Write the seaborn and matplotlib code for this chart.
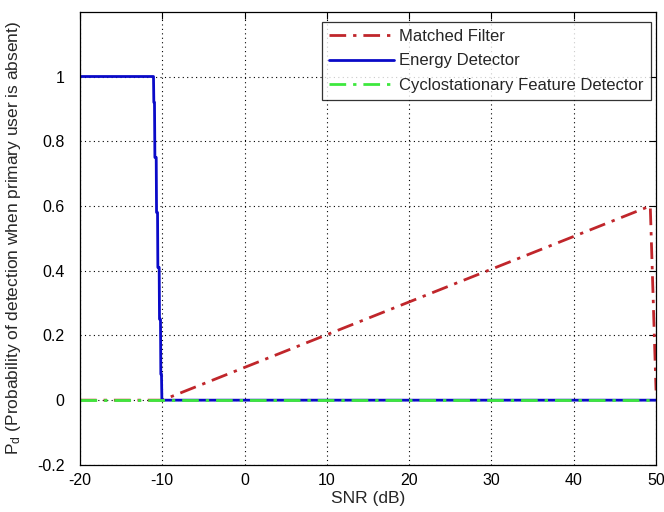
import numpy as np
import pandas as pd
import matplotlib
matplotlib.use("Agg")
import matplotlib.pyplot as plt
import seaborn as sns

# SNR (dB) / Pd corner points
snr_mf = [-20, -10, 49.3, 50]
pd_mf = [0.0, 0.0, 0.60, 0.03]

snr_ed = [-20, -11.07, -11.03, -10.95, -10.90, -10.74, -10.70, -10.58, -10.54,
          -10.38, -10.34, -10.22, -10.18, -10.10, -10.05, -9.98, 50]
pd_ed = [1.0, 1.0, 0.92, 0.92, 0.75, 0.75, 0.58, 0.58, 0.41,
         0.41, 0.25, 0.25, 0.08, 0.08, 0.0, 0.0, 0.0]

snr_cfd = [-20, 50]
pd_cfd = [0.0, 0.0]

labels = ["Matched Filter", "Energy Detector", "Cyclostationary Feature Detector"]
colors = ["#c0262b", "#0a0ac8", "#3ee83e"]
x_ticks = [-20, -10, 0, 10, 20, 30, 40, 50]
y_ticks = [-0.2, 0, 0.2, 0.4, 0.6, 0.8, 1]
y_tick_labels = ["-0.2", "0", "0.2", "0.4", "0.6", "0.8", "1"]


def main():
    sns.set_theme(style="white")
    plt.rcParams['font.family'] = ['Liberation Sans', 'DejaVu Sans']
    plt.rcParams['mathtext.fontset'] = 'custom'
    plt.rcParams['mathtext.rm'] = 'Liberation Sans'
    plt.rcParams['mathtext.it'] = 'Liberation Sans'
    plt.rcParams['axes.unicode_minus'] = False

    fig, ax = plt.subplots(figsize=(6.64, 5.12), dpi=100)
    fig.subplots_adjust(left=0.1205, right=0.988, top=0.977, bottom=0.092)

    dashdot = (0, (6, 2.5, 1.2, 2.5))
    series = [
        (snr_mf, pd_mf, dashdot),
        (snr_ed, pd_ed, "-"),
        (snr_cfd, pd_cfd, dashdot),
    ]
    for (x, y, ls), lab, col in zip(series, labels, colors):
        df = pd.DataFrame({"snr": x, "pd": y})
        sns.lineplot(x="snr", y="pd", data=df, estimator=None, sort=False,
                     color=col, linestyle=ls, linewidth=2, label=lab, ax=ax)

    ax.set_xlim(-20, 50)
    ax.set_ylim(-0.2, 1.2)
    ax.set_xticks(x_ticks)
    ax.set_yticks(y_ticks)
    ax.set_yticklabels(y_tick_labels)
    ax.grid(True, color="black", linestyle=(0, (1, 3)), linewidth=0.8)
    ax.tick_params(direction="in", length=5, width=0.8, top=True, right=True,
                   labelsize=11.5, colors="black")
    ax.tick_params(axis="x", pad=6)
    ax.tick_params(axis="y", pad=11)
    for s in ax.spines.values():
        s.set_color("black")
        s.set_linewidth(0.9)

    ax.set_xlabel("SNR (dB)", fontsize=12.5, labelpad=2)
    ax.set_ylabel(r"P$_{\rm d}$ (Probability of detection when primary user is absent)",
                  fontsize=12.5, labelpad=10)

    leg = ax.legend(loc="upper right", bbox_to_anchor=(0.992, 0.978),
                    fontsize=12, handlelength=3.9, frameon=True, fancybox=False,
                    borderaxespad=0, borderpad=0.45, labelspacing=0.55,
                    handletextpad=0.3)
    leg.get_frame().set_edgecolor("black")
    leg.get_frame().set_linewidth(0.9)

    fig.savefig("out.png", dpi=100)


if __name__ == "__main__":
    main()
